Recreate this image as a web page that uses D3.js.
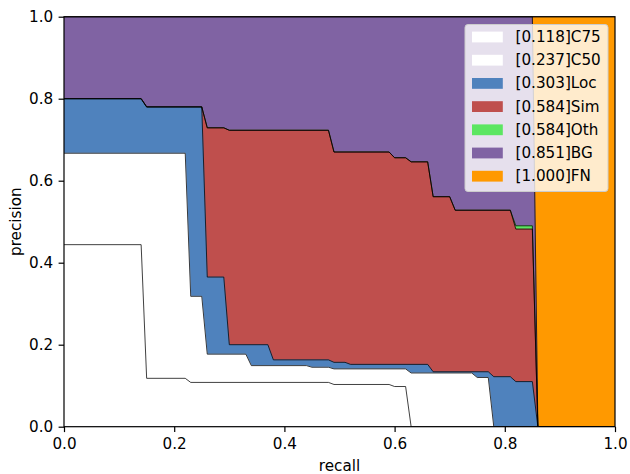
<!DOCTYPE html>
<html>
<head>
<meta charset="utf-8">
<script src="https://cdn.jsdelivr.net/npm/d3@7"></script>
<style>
  body { margin: 0; background: #fff; }
  svg { display: block; font-family: "DejaVu Sans", sans-serif; }
</style>
</head>
<body>
<div id="main"></div>
<script>
// error types, their AP and fill colours (COCO analyze style)
const types = ["C75", "C50", "Loc", "Sim", "Oth", "BG", "FN"]
const aps = [0.118, 0.237, 0.303, 0.584, 0.584, 0.851, 1.000]
const colors = ["#ffffff", "#ffffff", "#4f82bd", "#bf4f4d", "#5ce661", "#8063a3", "#ff9900"]
const ticks = [0, 0.2, 0.4, 0.6, 0.8, 1.0]

// precision/recall curves, [recall, precision] breakpoints
const c75 = [[0,0.444],[0.14,0.444],[0.15,0.118],[0.22,0.118],[0.23,0.108],[0.48,0.108],[0.49,0.103],
    [0.59,0.103],[0.60,0.098],[0.62,0.098],[0.63,0],[1,0]]
const c50 = [[0,0.667],[0.22,0.667],[0.23,0.318],[0.25,0.318],[0.26,0.177],[0.33,0.177],[0.34,0.149],
    [0.44,0.149],[0.45,0.145],[0.48,0.145],[0.49,0.141],[0.62,0.141],[0.63,0.131],[0.74,0.131],
    [0.75,0.120],[0.77,0.120],[0.78,0],[1,0]]
const loc = [[0,0.800],[0.14,0.800],[0.15,0.780],[0.25,0.780],[0.26,0.365],[0.29,0.365],[0.30,0.200],
    [0.37,0.200],[0.38,0.163],[0.48,0.163],[0.49,0.157],[0.51,0.157],[0.52,0.152],[0.66,0.152],
    [0.67,0.134],[0.77,0.134],[0.78,0.122],[0.81,0.122],[0.82,0.110],[0.85,0.110],[0.86,0],[1,0]]
const sim = [[0,0.800],[0.14,0.800],[0.15,0.780],[0.25,0.780],[0.26,0.729],[0.29,0.729],[0.30,0.723],
    [0.48,0.723],[0.49,0.670],[0.59,0.670],[0.60,0.656],[0.62,0.656],[0.63,0.646],[0.66,0.646],
    [0.67,0.561],[0.70,0.561],[0.71,0.528],[0.81,0.528],[0.82,0.482],[0.85,0.482],[0.86,0],[1,0]]
const oth = [[0,0.800],[0.14,0.800],[0.15,0.780],[0.25,0.780],[0.26,0.729],[0.29,0.729],[0.30,0.723],
    [0.48,0.723],[0.49,0.670],[0.59,0.670],[0.60,0.656],[0.62,0.656],[0.63,0.646],[0.66,0.646],
    [0.67,0.561],[0.70,0.561],[0.71,0.528],[0.81,0.528],[0.82,0.490],[0.85,0.490],[0.86,0],[1,0]]
const bg = [[0,1],[0.85,1],[0.86,0],[1,0]]
const fn = [[0,1],[1,1]]
const curves = [c75, c50, loc, sim, oth, bg, fn]

let W = 630, H = 474
let margin = {top: 16.7, right: 15, bottom: 47.3, left: 64}
let pxX = W - margin.left - margin.right,
    pxY = H - margin.top - margin.bottom
let fs = 15.2

let svg = d3.select("#main").append("svg")
    .attr("width", W)
    .attr("height", H)
let g = svg.append("g")
    .attr("transform", `translate(${margin.left} ${margin.top})`)

let scX = d3.scaleLinear().domain([0, 1]).range([0, pxX])
let scY = d3.scaleLinear().domain([0, 1]).range([pxY, 0])

g.append("clipPath").attr("id", "clip")
    .append("rect").attr("width", pxX).attr("height", pxY)

let plot = g.append("g").attr("clip-path", "url(#clip)")

// fills: paint from the top curve down, each from 0 up to its curve
let area = d3.area()
    .x(d=>scX(d[0]))
    .y0(scY(0))
    .y1(d=>scY(d[1]))
for (let k = curves.length - 1; k >= 0; k--) {
    plot.append("path")
        .attr("d", area(curves[k]))
        .attr("fill", colors[k])
        .attr("stroke", colors[k])
        .attr("stroke-width", 0.6)
}

// black curve lines on top of the fills
let makeLine = d3.line()
    .x(d=>scX(d[0]))
    .y(d=>scY(d[1]))
curves.forEach(c=> {
    plot.append("path")
        .attr("d", makeLine(c))
        .attr("fill", "none")
        .attr("stroke", "#000")
        .attr("stroke-width", 0.75)
})

//adding graph axis
let axX = d3.axisBottom(scX).tickValues(ticks).tickFormat(d3.format(".1f"))
    .tickSize(5.4).tickPadding(5.4)
let axY = d3.axisLeft(scY).tickValues(ticks).tickFormat(d3.format(".1f"))
    .tickSize(5.4).tickPadding(5.4)

let gx = g.append("g")
    .attr("transform", `translate(0, ${pxY})`)
    .call(axX)
let gy = g.append("g").call(axY)
;[gx, gy].forEach(a=> {
    a.select(".domain").remove()
    a.selectAll(".tick line").attr("stroke", "#000").attr("stroke-width", 1.2)
    a.selectAll(".tick text")
        .attr("fill", "#000")
        .style("font-size", fs + "px")
        .style("font-family", "DejaVu Sans")
})
gx.selectAll(".tick text").attr("dy", "0.76em")

// spines
g.append("rect")
    .attr("width", pxX).attr("height", pxY)
    .attr("fill", "none")
    .attr("stroke", "#000")
    .attr("stroke-width", 1.2)

g.append("text")
    .attr("x", pxX / 2)
    .attr("y", pxY + 44)
    .attr("text-anchor", "middle")
    .style("font-size", fs + "px")
    .text("recall")

g.append("text")
    .attr("transform", `translate(${-43} ${pxY / 2}) rotate(-90)`)
    .attr("text-anchor", "middle")
    .style("font-size", fs + "px")
    .text("precision")

// legend
let lg = svg.append("g").attr("transform", "translate(465 24.5)")
let legW = 143, legH = 167, pitch = 23.2
lg.append("rect")
    .attr("width", legW).attr("height", legH)
    .attr("rx", 3).attr("ry", 3)
    .attr("fill", "#fff").attr("fill-opacity", 0.8)
    .attr("stroke", "#cccccc").attr("stroke-width", 1)

types.forEach((t, i)=> {
    let cy = 12.5 + i * pitch
    lg.append("rect")
        .attr("x", 7).attr("y", cy - 5.4)
        .attr("width", 30.8).attr("height", 10.8)
        .attr("fill", colors[i])
    lg.append("text")
        .attr("x", 50.5)
        .attr("y", cy + 5)
        .attr("fill", "#000")
        .style("font-size", fs + "px")
        .text(`[${aps[i].toFixed(3)}]${t}`)
})
</script>
</body>
</html>
